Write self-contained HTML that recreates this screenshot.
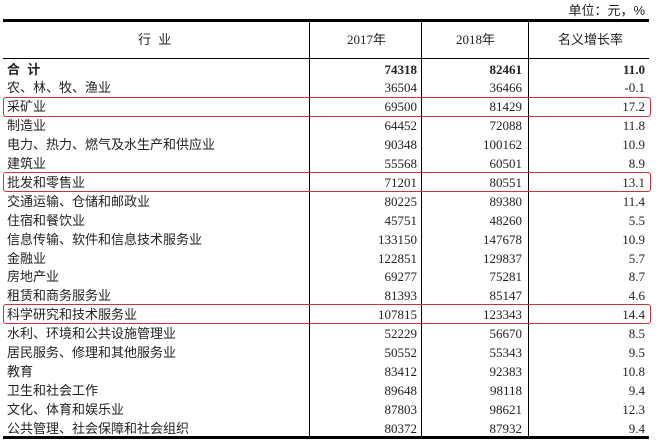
<!DOCTYPE html>
<html><head><meta charset="utf-8"><style>
body{margin:0;width:658px;height:443px;background:#fff;position:relative;overflow:hidden;font-family:"Liberation Serif","Noto Sans CJK SC",serif;font-size:13px;color:#222}
.a{position:absolute;white-space:nowrap;line-height:19px}
.l{left:7px;font-family:"Liberation Sans","Noto Sans CJK SC",sans-serif}
.c1{right:241px;text-align:right}
.c2{right:136px}
.c3{right:13px}
.ln{position:absolute;background:#000}
.box{position:absolute;left:3px;width:646px;height:18px;border:1px solid #c8343c;border-radius:3px}
</style></head><body>
<div class="a" style="right:13px;top:1px;font-family:'Liberation Sans','Noto Sans CJK SC',sans-serif">单位：元，%</div>
<div class="ln" style="left:3px;top:19px;width:646px;height:3px"></div>
<div class="ln" style="left:3px;top:58px;width:646px;height:1px"></div>
<div class="ln" style="left:3px;top:436px;width:646px;height:3px"></div>
<div class="ln" style="left:309px;top:21px;width:1px;height:416px"></div>
<div class="ln" style="left:421px;top:21px;width:1px;height:416px"></div>
<div class="ln" style="left:528px;top:21px;width:1px;height:416px"></div>
<div class="a" style="left:138px;top:30px;font-family:'Liberation Sans','Noto Sans CJK SC',sans-serif">行&nbsp;&nbsp;业</div>
<div class="a" style="left:347px;top:30px">2017年</div>
<div class="a" style="left:456px;top:30px">2018年</div>
<div class="a" style="left:558px;top:30px;font-family:'Liberation Sans','Noto Sans CJK SC',sans-serif">名义增长率</div>
<div class="box" style="top:97px"></div>
<div class="box" style="top:172px"></div>
<div class="box" style="top:304px"></div>
<div id="rows"></div>
<script>
var d=[["合&nbsp;&nbsp;计","74318","82461","11.0"],["农、林、牧、渔业","36504","36466","-0.1"],["采矿业","69500","81429","17.2"],["制造业","64452","72088","11.8"],["电力、热力、燃气及水生产和供应业","90348","100162","10.9"],["建筑业","55568","60501","8.9"],["批发和零售业","71201","80551","13.1"],["交通运输、仓储和邮政业","80225","89380","11.4"],["住宿和餐饮业","45751","48260","5.5"],["信息传输、软件和信息技术服务业","133150","147678","10.9"],["金融业","122851","129837","5.7"],["房地产业","69277","75281","8.7"],["租赁和商务服务业","81393","85147","4.6"],["科学研究和技术服务业","107815","123343","14.4"],["水利、环境和公共设施管理业","52229","56670","8.5"],["居民服务、修理和其他服务业","50552","55343","9.5"],["教育","83412","92383","10.8"],["卫生和社会工作","89648","98118","9.4"],["文化、体育和娱乐业","87803","98621","12.3"],["公共管理、社会保障和社会组织","80372","87932","9.4"]];
var h="";for(var i=0;i<d.length;i++){var t=59.5+i*18.9;var b=i==0?"font-weight:bold;":"";
h+='<div class="a l" style="top:'+t+'px;'+b+'">'+d[i][0]+'</div><div class="a c1" style="top:'+t+'px;'+b+'">'+d[i][1]+'</div><div class="a c2" style="top:'+t+'px;'+b+'">'+d[i][2]+'</div><div class="a c3" style="top:'+t+'px;'+b+'">'+d[i][3]+'</div>';}
document.getElementById("rows").innerHTML=h;
</script>
</body></html>
